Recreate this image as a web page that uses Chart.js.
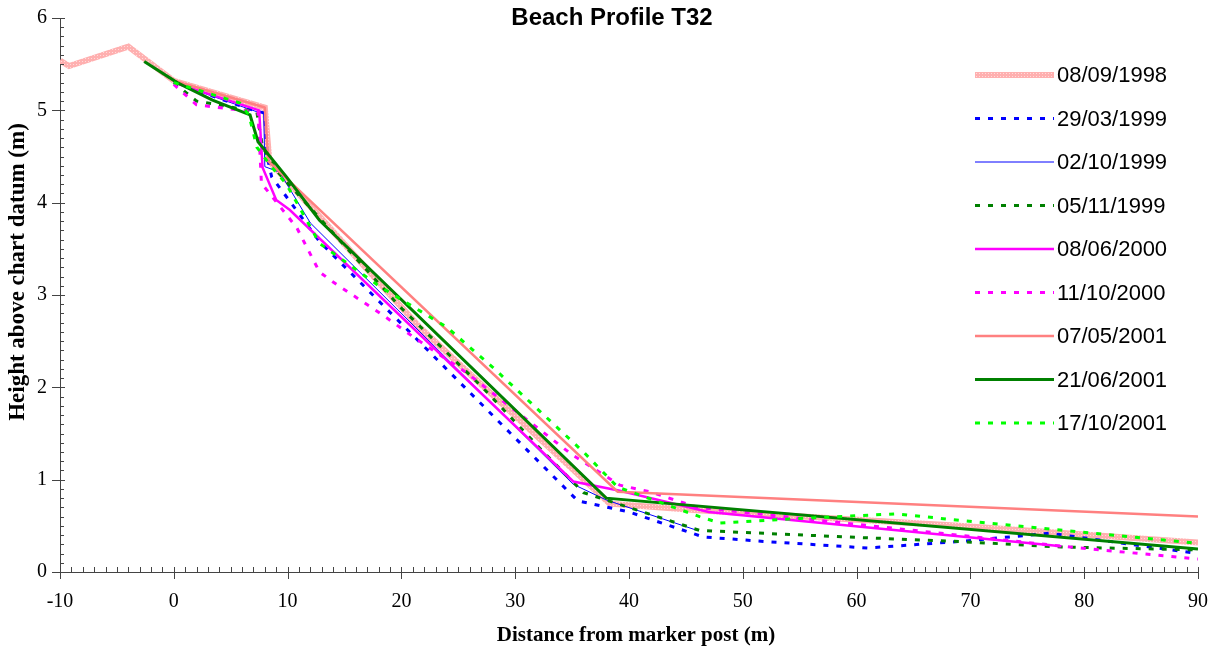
<!DOCTYPE html>
<html>
<head>
<meta charset="utf-8">
<script src="https://cdn.jsdelivr.net/npm/chart.js@4"></script>
<style>
  body { margin: 0; background: #fff; }
</style>
</head>
<body>
<canvas id="profileChart" width="1218" height="653"></canvas>
<script>
// Beach Profile T32 - survey dates and measured profiles
const surveyDates = [
	"08/09/1998", "29/03/1999", "02/10/1999", "05/11/1999", "08/06/2000",
	"11/10/2000", "07/05/2001", "21/06/2001", "17/10/2001",
];

const x1998a = [-10, -9.2, -4, 0, 8, 8.4, 21.6, 38.3, 46, 69, 90];
const y1998a = [5.54, 5.48, 5.69, 5.32, 5.03, 4.45, 2.65, 0.74, 0.67, 0.5, 0.32];

const x1999a = [0, 7, 8, 8.2, 8.6, 12.8, 31.3, 35.5, 40, 46.5, 52, 61, 69, 77, 90];
const y1999a = [5.3, 5.0, 4.97, 4.5, 4.28, 3.58, 1.29, 0.77, 0.65, 0.38, 0.33, 0.26, 0.33, 0.42, 0.2];

const x1999b = [0, 7.4, 7.9, 8, 9.3, 12, 35.1, 38, 46];
const y1999b = [5.3, 4.98, 4.98, 4.39, 4.33, 3.78, 0.95, 0.78, 0.45];

const x1999c = [0, 2, 3.5, 7.3, 7.8, 9, 19.9, 27.2, 32.4, 36, 46.2, 59, 69, 78, 90];
const y1999c = [5.3, 5.1, 5.07, 4.98, 4.6, 4.35, 2.87, 1.99, 1.31, 0.86, 0.45, 0.38, 0.33, 0.27, 0.24];

const x2000a = [0, 7.5, 7.8, 9, 10.2, 35.1, 39.2, 47, 78];
const y2000a = [5.3, 5.0, 4.38, 4.03, 3.92, 0.98, 0.88, 0.65, 0.28];

const x2000b = [0, 1, 2, 3.3, 7.4, 7.7, 10.8, 12.8, 14, 18.4, 21, 25.7, 35, 39.2, 41.8, 46, 78, 90];
const y2000b = [5.28, 5.17, 5.06, 5.04, 4.98, 4.21, 3.73, 3.25, 3.14, 2.78, 2.55, 2.16, 1.27, 0.94, 0.87, 0.7, 0.28, 0.14];

const x2001a = [0, 8, 8.3, 39, 90];
const y2001a = [5.32, 5.03, 4.45, 0.87, 0.6];

const x2001b = [-2.6, 0.3, 3.4, 6.7, 7.4, 9.9, 12.8, 38, 90];
const y2001b = [5.53, 5.3, 5.11, 4.95, 4.66, 4.28, 3.81, 0.8, 0.25];

const x2001c = [0, 5.8, 6.6, 7.3, 8.5, 9.9, 12.8, 18, 24, 28, 36, 39, 46.2, 48, 55, 63.5, 69, 90];
const y2001c = [5.3, 5.08, 4.95, 4.6, 4.4, 4.2, 3.56, 3.1, 2.65, 2.22, 1.3, 0.92, 0.6, 0.53, 0.58, 0.63, 0.56, 0.31];

const xValues = [x1998a, x1999a, x1999b, x1999c, x2000a, x2000b, x2001a, x2001b, x2001c];
const yValues = [y1998a, y1999a, y1999b, y1999c, y2000a, y2000b, y2001a, y2001b, y2001c];

// hatched pink stroke for the 1998 profile
function hatchPattern() {
	const c = document.createElement("canvas");
	c.width = 3;
	c.height = 3;
	const g = c.getContext("2d");
	g.fillStyle = "#ffb0b0";
	g.fillRect(0, 0, 3, 3);
	g.fillStyle = "#ffdcdc";
	g.fillRect(1, 1, 1, 1);
	return g.createPattern(c, "repeat");
}

const lineStyles = [
	{ color: hatchPattern(), width: 6, dash: [] },
	{ color: "#0000ff", width: 3, dash: [5, 8] },
	{ color: "#0000ff", width: 1, dash: [] },
	{ color: "#008000", width: 3, dash: [5, 8] },
	{ color: "#ff00ff", width: 2.5, dash: [] },
	{ color: "#ff00ff", width: 3, dash: [5, 8] },
	{ color: "#ff8080", width: 2.5, dash: [] },
	{ color: "#008000", width: 3, dash: [] },
	{ color: "#00ff00", width: 3, dash: [5, 8] },
];

const datasets = surveyDates.map((label, i) => ({
	label: label,
	data: xValues[i].map((x, j) => ({ x: x, y: yValues[i][j] })),
	borderColor: lineStyles[i].color,
	borderWidth: lineStyles[i].width,
	borderDash: lineStyles[i].dash,
	pointRadius: 0,
	tension: 0,
	fill: false,
	order: surveyDates.length - i,
}));

const serif = "'Liberation Serif', 'Times New Roman', serif";

// minor/major tick marks, titles and legend drawn by hand
const decorPlugin = {
	id: "decor",
	afterDraw(chart) {
		const ctx = chart.ctx;
		const xs = chart.scales.x;
		const ys = chart.scales.y;
		const area = chart.chartArea;
		ctx.save();
		ctx.strokeStyle = "#444";
		ctx.lineWidth = 1;
		ctx.beginPath();
		for (let v = -10; v <= 90; v++) {
			const px = Math.round(xs.getPixelForValue(v)) + 0.5;
			ctx.moveTo(px, area.bottom - 5);
			ctx.lineTo(px, v % 10 === 0 ? area.bottom + 7 : area.bottom);
		}
		for (let k = 0; k <= 60; k++) {
			const py = Math.round(ys.getPixelForValue(k / 10)) + 0.5;
			if (k % 10 === 0) {
				ctx.moveTo(area.left - 8, py);
				ctx.lineTo(area.left + 5, py);
			} else {
				ctx.moveTo(area.left, py);
				ctx.lineTo(area.left + 4, py);
			}
		}
		ctx.stroke();

		ctx.fillStyle = "#000";
		ctx.textAlign = "center";
		ctx.textBaseline = "middle";
		ctx.font = "bold 24px 'Liberation Sans', Arial, sans-serif";
		ctx.fillText("Beach Profile T32", 612, 18);

		ctx.font = "bold 21px " + serif;
		ctx.fillText("Distance from marker post (m)", 636, 636);

		ctx.save();
		ctx.translate(18, 272);
		ctx.rotate(-Math.PI / 2);
		ctx.font = "bold 23px " + serif;
		ctx.fillText("Height above chart datum (m)", 0, 0);
		ctx.restore();

		ctx.font = "22px 'Liberation Sans', Arial, sans-serif";
		ctx.textAlign = "left";
		surveyDates.forEach((label, i) => {
			const y = 75 + i * 43.5;
			const st = lineStyles[i];
			ctx.strokeStyle = st.color;
			ctx.lineWidth = st.width;
			ctx.setLineDash(st.dash);
			ctx.beginPath();
			ctx.moveTo(975, y);
			ctx.lineTo(1054, y);
			ctx.stroke();
			ctx.setLineDash([]);
			ctx.fillText(label, 1057, y + 1);
		});
		ctx.restore();
	},
};

const ctxProfile = document.getElementById("profileChart");
new Chart(ctxProfile, {
	type: "line",
	data: { datasets: datasets },
	options: {
		responsive: false,
		animation: false,
		layout: { padding: { top: 18, right: 20, left: 0, bottom: 0 } },
		plugins: {
			legend: { display: false },
			title: { display: false },
			tooltip: { enabled: false },
		},
		scales: {
			x: {
				type: "linear",
				min: -10,
				max: 90,
				afterFit: (s) => {
					s.height = 81;
					s.paddingLeft = 0;
					s.paddingRight = 0;
				},
				grid: { display: false, drawTicks: false },
				border: { display: true, color: "#444", width: 1 },
				ticks: {
					stepSize: 10,
					padding: 18,
					color: "#000",
					font: { family: serif, size: 20 },
				},
			},
			y: {
				min: 0,
				max: 6,
				afterFit: (s) => {
					s.width = 60;
					s.paddingTop = 0;
					s.paddingBottom = 0;
				},
				grid: { display: false, drawTicks: false },
				border: { display: true, color: "#444", width: 1 },
				ticks: {
					stepSize: 1,
					padding: 13,
					color: "#000",
					font: { family: serif, size: 20 },
				},
			},
		},
	},
	plugins: [decorPlugin],
});
</script>
</body>
</html>
